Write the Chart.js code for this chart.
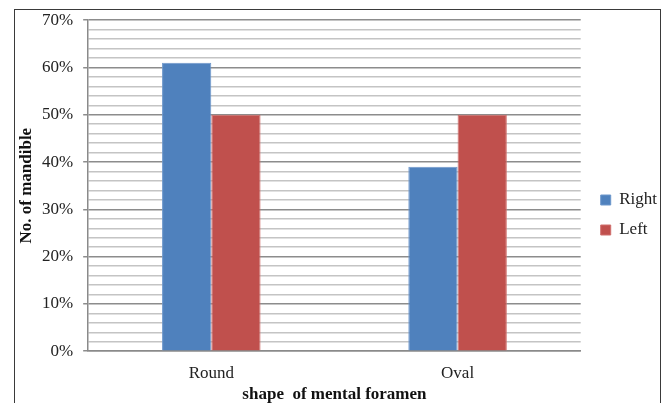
<!DOCTYPE html>
<html>
<head>
<meta charset="utf-8">
<script src="https://cdn.jsdelivr.net/npm/chart.js@4"></script>
<style>
  html, body { margin: 0; padding: 0; overflow: hidden; background: #fff; }
  #wrap { position: absolute; left: 0; top: 0; width: 665px; height: 403px; }
  #frame { position: absolute; left: 14px; top: 9px; width: 645px; height: 500px;
           border: 1.5px solid #3a3a3a; border-bottom: none; pointer-events: none; }
</style>
</head>
<body>
<div id="wrap"><canvas id="chart"></canvas></div>
<div id="frame"></div>
<script>
const categories = ['Round', 'Oval'];
const seriesNames = ['Right', 'Left'];
const rightValues = [61, 39];
const leftValues = [50, 50];
const yMax = 70;
const yStep = 2;

const serif = "'Liberation Serif', 'Times New Roman', serif";
const isMajor = (ctx) => ctx.tick && ctx.tick.value % 10 === 0;

new Chart(document.getElementById('chart'), {
    type: 'bar',
    data: {
        labels: categories,
        datasets: [{
            label: seriesNames[0],
            data: rightValues,
            backgroundColor: '#4F81BD',
            borderColor: '#6D97CC',
            borderWidth: 1,
            categoryPercentage: 0.4,
            barPercentage: 1
        }, {
            label: seriesNames[1],
            data: leftValues,
            backgroundColor: '#C0504D',
            borderColor: '#D06F6C',
            borderWidth: 1,
            categoryPercentage: 0.4,
            barPercentage: 1
        }]
    },
    options: {
        responsive: true,
        maintainAspectRatio: false,
        animation: false,
        layout: { padding: { left: 18.5, top: 13, right: -2, bottom: -2 } },
        plugins: {
            tooltip: { enabled: false },
            legend: {
                position: 'right',
                title: { display: true, text: '', padding: 0, font: { size: 10 } },
                labels: {
                    boxWidth: 10,
                    boxHeight: 10,
                    padding: 13,
                    color: '#222',
                    font: { family: serif, size: 17 }
                }
            }
        },
        scales: {
            x: {
                grid: { display: false, drawTicks: false },
                border: { display: true, color: '#8a8a8a', width: 1.5 },
                ticks: { color: '#222', padding: 12, font: { family: serif, size: 17 } },
                title: {
                    display: true,
                    text: 'shape  of mental foramen',
                    color: '#111',
                    padding: { top: -11, bottom: 0 },
                    font: { family: serif, size: 17, weight: 'bold' }
                }
            },
            y: {
                min: 0,
                max: yMax,
                ticks: {
                    stepSize: yStep,
                    autoSkip: false,
                    padding: 10,
                    color: '#222',
                    font: { family: serif, size: 17 },
                    callback: (v) => (v % 10 === 0 ? v + '%' : '')
                },
                grid: {
                    color: (ctx) => (isMajor(ctx) ? '#8c8c8c' : '#c4c4c4'),
                    lineWidth: 1.5,
                    tickColor: (ctx) => (isMajor(ctx) ? '#8c8c8c' : 'rgba(0,0,0,0)'),
                    tickLength: 5
                },
                border: { color: '#8a8a8a', width: 1.5 },
                title: {
                    display: true,
                    text: 'No. of mandible',
                    color: '#111',
                    padding: { top: 0, bottom: -3.5 },
                    font: { family: serif, size: 17, weight: 'bold', lineHeight: 1 }
                }
            },
            // empty spacer between the plot and the legend
            gap: {
                type: 'linear',
                position: 'right',
                display: true,
                grid: { display: false },
                border: { display: false },
                ticks: { display: false },
                afterFit: (s) => { s.width = 7; }
            }
        }
    }
});
</script>
</body>
</html>
